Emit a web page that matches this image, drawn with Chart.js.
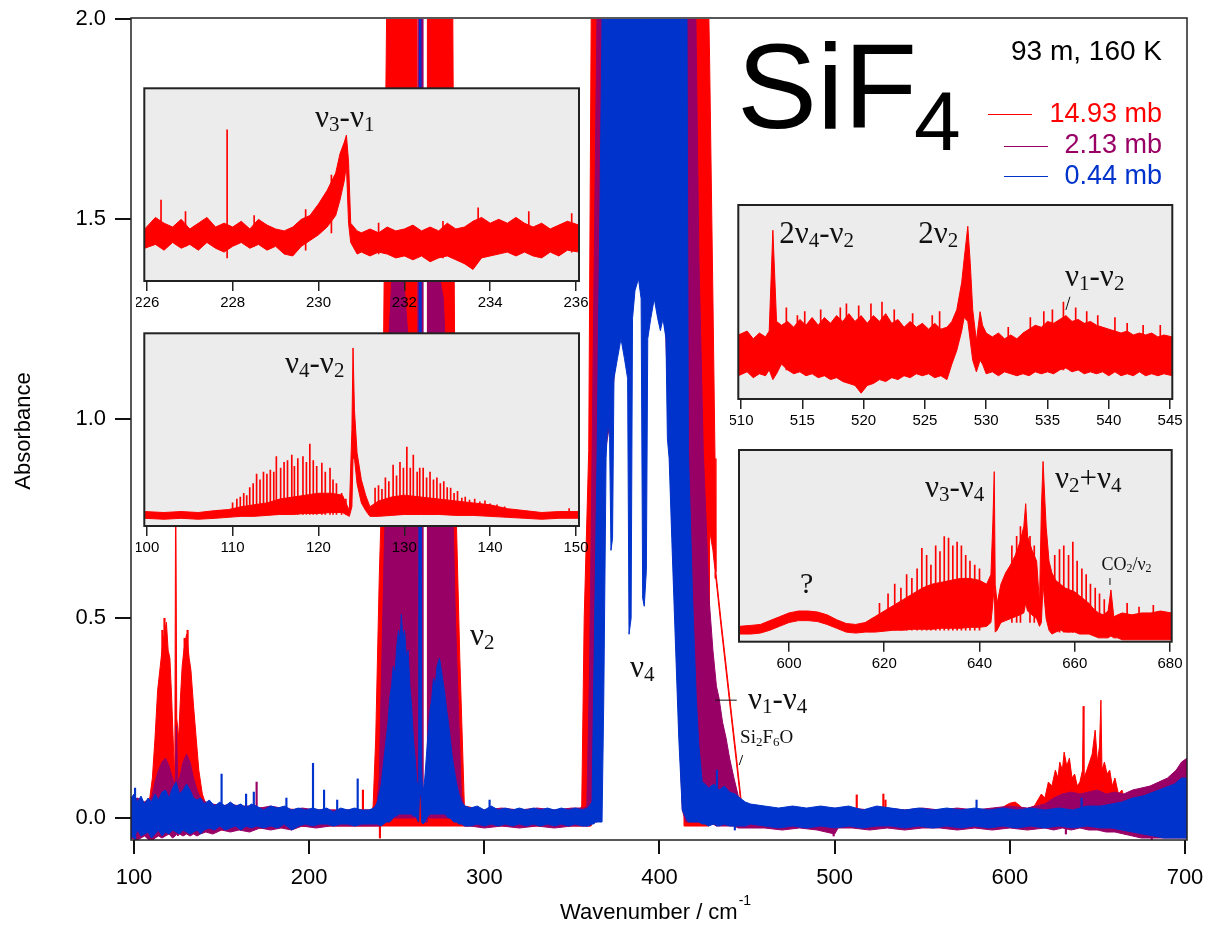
<!DOCTYPE html>
<html>
<head>
<meta charset="utf-8">
<script src="https://cdn.jsdelivr.net/npm/chart.js@4.4.1/dist/chart.umd.min.js"></script>
<style>
  body { margin: 0; background: #fff; }
  #wrap { position: relative; width: 1210px; height: 929px; }
  canvas { position: absolute; }
</style>
</head>
<body>
<div id="wrap">
  <canvas id="main" width="1210" height="929" style="left:0;top:0"></canvas>
  <canvas id="in1" width="452" height="240" style="left:136px;top:80px"></canvas>
  <canvas id="in2" width="452" height="240" style="left:136px;top:325px"></canvas>
  <canvas id="in3" width="452" height="240" style="left:730px;top:197px"></canvas>
  <canvas id="in4" width="452" height="240" style="left:730px;top:442px"></canvas>
</div>
<script>
// ---------- fonts / colours ----------
const SANS = "'Liberation Sans', Arial, sans-serif";
const SERIF = "'Liberation Serif', 'Times New Roman', serif";
Chart.defaults.font.family = SANS;
Chart.defaults.color = '#000';
Chart.defaults.animation = false;

const RED = '#ff0000', PURPLE = '#990066', BLUE = '#0033cc';

// ---------- main spectrum: [wavenumber, upper envelope, lower envelope] ----------
const blueRows = [
[98.3,0.05,-0.045],[100,0.06,-0.05],[102,0.04,-0.03],[104,0.055,-0.045],[106,0.035,-0.04],[108,0.05,-0.035],[110,0.04,-0.05],[112,0.06,-0.04],[114,0.045,-0.03],[116,0.065,-0.045],[118,0.07,-0.035],[120,0.05,-0.04],[122,0.075,-0.03],[124,0.09,-0.035],[126,0.06,-0.04],[128,0.07,-0.03],[130,0.085,-0.035],[132,0.07,-0.04],[134,0.05,-0.035],[136,0.045,-0.03],[138,0.05,-0.04],[140,0.035,-0.03],[143,0.045,-0.025],[146,0.03,-0.03],[149,0.04,-0.02],[152,0.03,-0.03],[155,0.04,-0.025],[158,0.03,-0.02],[161,0.035,-0.03],[164,0.025,-0.02],[167,0.035,-0.025],[170,0.03,-0.02],[174,0.02,-0.025],[178,0.03,-0.02],[182,0.025,-0.025],[186,0.03,-0.015],[190,0.02,-0.03],[194,0.025,-0.02],[198,0.02,-0.015],[202,0.025,-0.02],[206,0.02,-0.015],[210,0.025,-0.015],[214,0.015,-0.02],[218,0.025,-0.015],[222,0.02,-0.015],[226,0.025,-0.02],[230,0.02,-0.015],[234,0.02,-0.015],[237,0.025,-0.015],
[239,0.04,-0.015],[241,0.08,-0.02],[242.5,0.14,-0.015],[244,0.2,-0.01],[245,0.24,-0.01],[246,0.3,-0.01],[247,0.33,-0.005],[248,0.38,0],[249,0.36,0.005],[250,0.43,0.005],[251,0.47,0.01],[252,0.44,0.01],[252.6,0.51,0.01],[253.5,0.45,0.01],[254.5,0.47,0.01],[255.5,0.4,0.01],[256.5,0.42,0.01],[257.5,0.33,0.01],[258.5,0.28,0.01],[259.5,0.2,0.005],[260.5,0.15,0.005],[261.5,0.09,0],[262.5,0.08,-0.01],[263,2.0,0.06],[263.8,2.0,0.06],[264.2,0.12,-0.01],[265,0.06,-0.015],[266,0.1,-0.01],[267,0.16,0],[268,0.22,0.005],[269,0.27,0.01],[270,0.3,0.01],[271,0.35,0.01],[272,0.33,0.01],[273,0.38,0.01],[274.4,0.4,0.01],[275.5,0.37,0.01],[276.5,0.34,0.01],[277.5,0.31,0.01],[278.5,0.27,0.005],[279.5,0.24,0],[280.5,0.2,0],[281.5,0.16,-0.005],[282.5,0.13,-0.01],[284,0.09,-0.01],[285.5,0.06,-0.015],[287,0.04,-0.015],[289,0.03,-0.02],
[292,0.025,-0.02],[296,0.03,-0.015],[300,0.02,-0.02],[304,0.03,-0.015],[308,0.02,-0.02],[312,0.025,-0.015],[316,0.02,-0.02],[320,0.025,-0.015],[324,0.02,-0.02],[328,0.025,-0.015],[332,0.02,-0.02],[336,0.025,-0.015],[340,0.02,-0.02],[344,0.025,-0.015],[348,0.02,-0.02],[352,0.025,-0.015],[356,0.02,-0.02],[359,0.025,-0.02],
[361.5,0.04,-0.015],[362.5,0.35,-0.015],[363.5,0.65,-0.01],[364.4,0.92,-0.01],[365.8,1.45,-0.01],[367.2,2.0,-0.01],[368.2,2.0,0.3],[369.5,2.0,0.9],[370.5,2.0,1.0],[371.5,2.0,0.95],[372.3,2.0,0.67],[373.2,2.0,0.7],[374,2.0,1.1],[376,2.0,1.15],[378,2.0,1.2],[380,2.0,1.15],[381.8,2.0,1.1],[382.6,2.0,0.46],[383.8,2.0,0.5],[384.6,2.0,1.25],[386,2.0,1.32],[388,2.0,1.35],[389.5,2.0,1.3],[390.4,2.0,0.55],[391.3,2.0,0.53],[392.5,2.0,0.62],[393.3,2.0,1.2],[395,2.0,1.25],[397,2.0,1.3],[399,2.0,1.25],[400.5,2.0,1.22],[402,2.0,1.25],[403.7,2.0,1.2],[404.5,2.0,0.95],[405.5,2.0,0.9],[407,2.0,0.7],[409,2.0,0.45],[411,2.0,0.2],[413,2.0,0.02],[415.7,2.0,-0.005],[416.5,0.92,-0.01],[418.9,0.55,-0.01],[421,0.3,-0.01],[422.5,0.18,-0.01],[424.4,0.09,-0.015],[426,0.085,-0.015],[428,0.075,-0.02],[431,0.085,-0.015],[434,0.07,-0.02],[437,0.08,-0.015],[440,0.065,-0.02],[443,0.06,-0.02],[446,0.05,-0.02],[449,0.04,-0.02],[452,0.035,-0.015],
[460,0.03,-0.02],[468,0.025,-0.025],[476,0.03,-0.02],[484,0.025,-0.025],[492,0.03,-0.02],[500,0.025,-0.025],[508,0.03,-0.02],[516,0.02,-0.025],[524,0.03,-0.02],[532,0.025,-0.02],[540,0.02,-0.025],[548,0.025,-0.02],[556,0.02,-0.025],[564,0.025,-0.02],[572,0.02,-0.025],[580,0.025,-0.02],[588,0.02,-0.025],[596,0.025,-0.02],[604,0.02,-0.025],[612,0.025,-0.02],[620,0.02,-0.025],[628,0.025,-0.02],[636,0.02,-0.025],[644,0.03,-0.02],[652,0.03,-0.025],[658,0.035,-0.025],[664,0.04,-0.03],[670,0.05,-0.035],[676,0.055,-0.04],[682,0.065,-0.045],[688,0.075,-0.05],[694,0.085,-0.05],[698,0.1,-0.05],[701.2,0.1,-0.05]
];

const purpleRows = [
[98.3,0.045,-0.05],[102,0.05,-0.055],[106,0.04,-0.045],[110,0.05,-0.06],[112,0.09,-0.05],[114,0.12,-0.045],[116,0.14,-0.05],[118,0.15,-0.045],[120,0.13,-0.04],[122,0.1,-0.05],[123.5,0.08,-0.045],[124.2,0.23,-0.04],[125,0.09,-0.045],[126,0.1,-0.04],[128,0.14,-0.045],[130,0.16,-0.04],[132,0.14,-0.045],[134,0.1,-0.04],[136,0.07,-0.045],[138,0.05,-0.04],[141,0.04,-0.035],[145,0.035,-0.04],[150,0.03,-0.03],[155,0.035,-0.035],[160,0.03,-0.03],[166,0.03,-0.035],[172,0.025,-0.025],[178,0.03,-0.03],[184,0.025,-0.025],[190,0.02,-0.03],[196,0.025,-0.02],[204,0.02,-0.025],[212,0.02,-0.02],[220,0.02,-0.02],[228,0.02,-0.02],[235,0.02,-0.02],
[238.5,0.03,-0.02],[240,0.1,-0.02],[241.5,0.4,-0.015],[243,0.7,-0.01],[244,0.82,-0.01],[245.5,1.2,-0.005],[247.5,1.38,0],[250,1.5,0],[252.5,1.42,0],[254.5,1.32,0],[256.5,1.2,0],[258.5,1.05,0],[260.5,0.9,0],[261.4,0.8,0],[261.6,0.06,-0.01],[262,0.06,-0.01],[262.2,2.0,0.05],[264.7,2.0,0.05],[264.9,0.06,-0.01],[267.4,0.07,-0.01],[267.6,1.4,0],[269.5,1.52,0],[271.5,1.45,0],[273.5,1.38,0],[276.6,1.3,0],[278.5,1.1,0],[280.5,0.92,0],[282,0.78,0],[283.5,0.5,-0.005],[285,0.3,-0.01],[286.9,0.06,-0.015],[288.5,0.025,-0.02],
[292,0.025,-0.02],[300,0.02,-0.025],[310,0.025,-0.02],[320,0.02,-0.025],[330,0.025,-0.02],[340,0.02,-0.025],[350,0.025,-0.02],[357,0.025,-0.02],
[358.5,0.03,-0.02],[360,0.35,-0.02],[361.5,0.9,-0.015],[363,1.5,-0.01],[364.3,2.0,-0.01],[366.5,2.0,0.3],[368.5,2.0,0.9],[372,2.0,1.0],[376,2.0,1.2],[380,2.0,1.2],[384,2.0,1.25],[386,2.0,1.35],[388,2.0,1.4],[390,2.0,1.3],[393,2.0,1.25],[396,2.0,1.35],[400,2.0,1.3],[403.5,2.0,1.22],[405.5,2.0,0.95],[407,2.0,0.75],[409,2.0,0.5],[411,2.0,0.25],[413,2.0,0.02],[415,2.0,-0.01],[420.8,2.0,-0.01],[422.5,1.4,-0.01],[425,0.92,-0.01],[427,0.7,-0.01],[428.3,0.55,-0.015],[430.5,0.42,-0.015],[432.5,0.33,-0.02],[434,0.3,-0.02],[436,0.24,-0.02],[438,0.2,-0.02],[440,0.15,-0.02],[442.5,0.1,-0.02],[445,0.055,-0.025],[447,0.035,-0.025],[450,0.03,-0.025],
[460,0.025,-0.025],[470,0.02,-0.03],[480,0.025,-0.025],[490,0.02,-0.03],[500,0.025,-0.04],[502,0.02,-0.025],[510,0.025,-0.025],[520,0.02,-0.03],[530,0.025,-0.025],[540,0.02,-0.03],[550,0.025,-0.025],[560,0.02,-0.025],[570,0.025,-0.03],[580,0.02,-0.025],[590,0.025,-0.03],[600,0.03,-0.025],[610,0.025,-0.03],[620,0.035,-0.025],[625,0.05,-0.03],[630,0.06,-0.025],[635,0.065,-0.03],[640,0.06,-0.025],[645,0.065,-0.03],[650,0.07,-0.03],[655,0.06,-0.035],[660,0.065,-0.035],[665,0.06,-0.04],[670,0.07,-0.045],[675,0.075,-0.05],[680,0.08,-0.05],[685,0.09,-0.05],[690,0.1,-0.05],[695,0.12,-0.05],[698,0.14,-0.05],[701.2,0.15,-0.05]
];

const redRows = [
[98.3,0.04,-0.04],[106,0.04,-0.04],[109,0.05,-0.03],[110.5,0.1,-0.02],[112,0.2,-0.02],[113.5,0.32,-0.02],[115,0.38,-0.02],[116.5,0.44,-0.02],[118.5,0.49,-0.02],[119.5,0.42,-0.02],[120.5,0.4,-0.02],[121.5,0.3,-0.02],[122.5,0.18,-0.02],[123.3,0.1,-0.02],[123.8,0.9,-0.02],[124.4,0.25,-0.02],[125.5,0.2,-0.02],[126.5,0.3,-0.02],[127.5,0.38,-0.02],[128.5,0.42,-0.02],[130,0.46,-0.02],[131.5,0.4,-0.02],[132.5,0.37,-0.02],[134,0.28,-0.02],[135.5,0.2,-0.02],[137,0.12,-0.02],[139,0.06,-0.02],[141,0.035,-0.02],[150,0.03,-0.03],[200,0.02,-0.02],[236,0.02,-0.02],
[236.5,0.03,-0.02],[238,0.2,-0.02],[240,0.6,-0.02],[241,0.75,-0.02],[242.5,1.2,-0.02],[243.5,1.7,-0.02],[244.2,2.0,-0.02],[261.3,2.0,-0.02],[261.5,0.06,-0.02],[267.3,0.06,-0.02],[267.5,2.0,-0.02],[282,2.0,-0.02],[283,1.2,-0.02],[284,0.75,-0.02],[286,0.4,-0.02],[288.6,0.03,-0.02],[300,0.02,-0.02],[354.5,0.02,-0.02],
[355.6,0.03,-0.02],[357,0.5,-0.02],[359.6,0.92,-0.02],[361,2.0,-0.02],[365,2.0,0.2],[367,2.0,1.9],[412,2.0,1.9],[414,2.0,-0.02],[428.2,2.0,-0.02],[428.6,1.9,0.72],[430.5,1.3,0.67],[431.7,0.9,0.62],[432.2,0.615,0.6],[435,0.5,0.485],[440,0.305,0.29],[444,0.15,0.135],[446.5,0.05,0.035],[447.2,0.03,-0.02],[460,0.02,-0.02],[595,0.02,-0.02],[597,0.03,-0.02],[600,0.037,-0.02],[603,0.04,-0.02],[606,0.03,-0.02],[608,0.02,-0.02],[614,0.03,-0.02],[618,0.06,-0.02],[620,0.05,-0.02],[622,0.09,-0.02],[624,0.08,-0.02],[626,0.12,-0.02],[627.5,0.1,-0.02],[628.5,0.14,-0.02],[630,0.12,-0.02],[631,0.165,-0.02],[632.5,0.13,-0.02],[634,0.15,-0.02],[635.5,0.1,-0.02],[637,0.11,-0.02],[638.5,0.08,-0.02],[640,0.09,-0.02],[641.5,0.12,-0.02],[641.9,0.28,-0.02],[642.3,0.1,-0.02],[644,0.12,-0.02],[645.5,0.14,-0.02],[647,0.16,-0.02],[648.7,0.22,-0.02],[650,0.14,-0.02],[651.2,0.18,-0.02],[652,0.295,-0.02],[652.6,0.12,-0.02],[654,0.14,-0.02],[655.5,0.11,-0.02],[657,0.12,-0.02],[658.5,0.08,-0.02],[660,0.1,-0.02],[662,0.06,-0.02],[664,0.07,-0.02],[666,0.04,-0.02],[670,0.03,-0.02],[701.2,0.03,-0.02]
];

// single lines: [wavenumber, low, high]
const blueSpikes = [[100.6,-0.055,0.075],[150,-0.02,0.11],[164,-0.02,0.06],[168.4,-0.015,0.065],[187,-0.02,0.05],[202.2,-0.01,0.137],[208.5,-0.01,0.07],[216,-0.01,0.045],[227.7,-0.01,0.098],[303,-0.01,0.045],[432.8,-0.02,0.12],[443,-0.03,0.06],[581,-0.01,0.045],[641,-0.01,0.05]];
const purpleSpikes = [[170,-0.02,0.09],[499.4,-0.045,0.01],[632,-0.04,0.0],[681,-0.055,0.0]];
const redSpikes = [[116.2,-0.02,0.47],[117.4,-0.02,0.5],[128.9,-0.02,0.45],[130.6,-0.02,0.47],[230.7,-0.01,0.07],[240.4,-0.05,0.0],[512.6,-0.01,0.058],[527.8,-0.01,0.06],[529,-0.01,0.045]];

const xTicksMain = [100, 200, 300, 400, 500, 600, 700];
const yTicksMain = [0, 0.5, 1.0, 1.5, 2.0];

// ---------- insets (red trace only, arbitrary units) ----------
const in1Rows = [[225.95,0.27,0.17],[226.2,0.33,0.19],[226.4,0.3,0.16],[226.6,0.28,0.2],[226.8,0.32,0.17],[227,0.27,0.19],[227.2,0.3,0.16],[227.4,0.33,0.2],[227.6,0.28,0.17],[227.8,0.3,0.15],[228,0.28,0.18],[228.2,0.31,0.2],[228.4,0.27,0.17],[228.6,0.32,0.19],[228.8,0.29,0.16],[229,0.27,0.18],[229.2,0.26,0.14],[229.4,0.28,0.13],[229.6,0.32,0.18],[229.8,0.34,0.21],[230,0.4,0.24],[230.2,0.47,0.28],[230.4,0.56,0.34],[230.5,0.66,0.42],[230.6,0.72,0.52],[230.65,0.757,0.6],[230.7,0.62,0.3],[230.75,0.3,0.2],[230.9,0.26,0.14],[231,0.25,0.15],[231.2,0.27,0.13],[231.4,0.25,0.15],[231.6,0.28,0.14],[231.8,0.26,0.12],[232,0.27,0.13],[232.2,0.29,0.11],[232.4,0.26,0.13],[232.6,0.28,0.1],[232.8,0.26,0.12],[233,0.3,0.13],[233.2,0.27,0.11],[233.4,0.28,0.09],[233.6,0.31,0.06],[233.8,0.33,0.12],[234,0.3,0.13],[234.2,0.32,0.14],[234.4,0.3,0.15],[234.6,0.33,0.13],[234.8,0.3,0.15],[235,0.28,0.13],[235.2,0.3,0.12],[235.4,0.27,0.15],[235.6,0.29,0.13],[235.8,0.31,0.16],[236.07,0.29,0.15]];
const in1Spikes = [[226.33,0.2,0.42],[226.9,0.18,0.36],[227.87,0.12,0.784],[228.5,0.18,0.34],[229.7,0.16,0.37],[230.3,0.25,0.55],[231.4,0.14,0.3],[232.9,0.12,0.31],[233.72,0.15,0.38],[234.9,0.15,0.36],[235.9,0.15,0.35]];

const in2Rows = [[99.72,0.075,0.04],[102,0.07,0.035],[104,0.075,0.04],[106,0.07,0.035],[108,0.08,0.04],[109.5,0.085,0.045],[111,0.1,0.05],[112.5,0.11,0.05],[114,0.12,0.055],[115.5,0.14,0.06],[117,0.15,0.06],[118.5,0.16,0.065],[120,0.17,0.065],[121.5,0.17,0.07],[122.8,0.16,0.07],[123.6,0.08,0.05],[123.9,0.5,0.1],[124.03,0.924,0.35],[124.2,0.6,0.35],[124.5,0.38,0.22],[125,0.24,0.12],[125.5,0.16,0.08],[126,0.1,0.05],[127,0.13,0.05],[128.5,0.15,0.055],[130,0.16,0.06],[132,0.15,0.06],[134,0.14,0.06],[136,0.13,0.055],[138,0.12,0.055],[140,0.11,0.05],[142,0.09,0.045],[144,0.08,0.04],[146,0.07,0.035],[148,0.075,0.04],[150.35,0.075,0.04]];
const in2Spikes = [[110.0,0.06,0.12],[110.5,0.06,0.14],[110.9,0.06,0.15],[111.3,0.06,0.17],[111.65,0.06,0.158],[112.0,0.06,0.2],[112.4,0.06,0.22],[112.8,0.06,0.27],[113.2,0.06,0.24],[113.6,0.06,0.28],[114.0,0.06,0.27],[114.4,0.06,0.29],[114.8,0.06,0.28],[115.1,0.06,0.36],[115.6,0.06,0.3],[116.0,0.06,0.33],[116.4,0.06,0.34],[116.9,0.06,0.368],[117.2,0.06,0.31],[117.6,0.06,0.35],[118.2,0.06,0.36],[118.6,0.06,0.33],[119.0,0.06,0.425],[119.4,0.06,0.34],[119.8,0.06,0.31],[120.4,0.06,0.327],[120.8,0.06,0.28],[121.35,0.06,0.3],[121.7,0.06,0.24],[122.1,0.06,0.22],[122.7,0.06,0.17],[123.2,0.06,0.14],
[126.6,0.06,0.197],[127.0,0.06,0.21],[127.4,0.06,0.19],[127.8,0.06,0.25],[128.2,0.06,0.23],[128.7,0.06,0.316],[129.1,0.06,0.26],[129.5,0.06,0.33],[129.9,0.06,0.3],[130.3,0.06,0.41],[130.7,0.06,0.3],[131.05,0.06,0.368],[131.5,0.06,0.28],[131.8,0.06,0.3],[132.2,0.06,0.3],[132.6,0.06,0.25],[133.0,0.06,0.28],[133.4,0.06,0.24],[133.8,0.06,0.25],[134.2,0.06,0.22],[134.6,0.06,0.23],[135.0,0.06,0.2],[135.4,0.06,0.197],[135.8,0.06,0.17],[136.2,0.06,0.18],[136.7,0.06,0.145],[137.1,0.06,0.15],[137.6,0.06,0.135],[138.2,0.06,0.14],[138.8,0.06,0.125],[139.4,0.06,0.13],[140.0,0.06,0.115],[140.8,0.06,0.11],[141.7,0.06,0.1],[149.2,0.05,0.09]];

const in3Rows = [[509.78,0.33,0.12],[510.5,0.35,0.14],[511,0.31,0.11],[511.5,0.34,0.13],[512,0.32,0.12],[512.3,0.35,0.15],[512.6,0.87,0.1],[512.9,0.4,0.13],[513.3,0.38,0.18],[513.8,0.4,0.15],[514.3,0.37,0.13],[514.8,0.41,0.14],[515.3,0.38,0.12],[515.8,0.42,0.13],[516.3,0.38,0.11],[516.8,0.42,0.12],[517.3,0.39,0.1],[517.8,0.43,0.11],[518.3,0.4,0.09],[518.8,0.44,0.08],[519.3,0.4,0.07],[519.8,0.43,0.03],[520.3,0.39,0.07],[520.8,0.43,0.08],[521.3,0.4,0.1],[521.8,0.44,0.09],[522.3,0.39,0.11],[522.8,0.41,0.1],[523.3,0.37,0.12],[523.8,0.4,0.11],[524.3,0.37,0.13],[524.8,0.39,0.12],[525.3,0.36,0.13],[525.8,0.39,0.11],[526.3,0.36,0.12],[526.8,0.37,0.1],[527.2,0.4,0.18],[527.6,0.46,0.25],[528.0,0.6,0.35],[528.2,0.72,0.42],[528.5,0.89,0.4],[528.7,0.7,0.3],[528.9,0.46,0.2],[529.2,0.3,0.14],[529.5,0.45,0.2],[529.7,0.38,0.18],[530.0,0.34,0.13],[530.5,0.32,0.14],[531,0.34,0.12],[531.5,0.31,0.14],[532,0.33,0.13],[532.5,0.31,0.12],[533,0.34,0.13],[533.5,0.36,0.12],[534,0.38,0.14],[534.5,0.37,0.13],[535,0.4,0.14],[535.5,0.39,0.13],[536,0.41,0.15],[536.5,0.43,0.16],[537,0.4,0.14],[537.5,0.41,0.15],[538,0.39,0.13],[538.5,0.4,0.14],[539,0.38,0.13],[539.5,0.37,0.14],[540,0.36,0.12],[540.5,0.35,0.14],[541,0.34,0.12],[541.5,0.35,0.13],[542,0.33,0.12],[542.5,0.34,0.14],[543,0.33,0.12],[543.5,0.34,0.13],[544,0.32,0.12],[544.5,0.33,0.13],[545.18,0.32,0.12]];
const in3Spikes = [[513.7,0.15,0.47],[514.6,0.15,0.43],[515.2,0.15,0.45],[516.5,0.15,0.46],[518.1,0.15,0.47],[518.6,0.15,0.49],[519.6,0.15,0.48],[520.6,0.15,0.49],[521.5,0.15,0.5],[522.5,0.15,0.46],[524.0,0.15,0.44],[525.6,0.15,0.43],[526.2,0.15,0.45],[531.8,0.15,0.37],[533.6,0.15,0.42],[534.7,0.15,0.45],[535.4,0.15,0.46],[536.3,0.15,0.5],[537.3,0.15,0.47],[538.2,0.15,0.45],[539.1,0.15,0.43],[540.5,0.15,0.42],[541.5,0.15,0.39],[542.8,0.15,0.38],[544.2,0.15,0.38]];

const in4Rows = [[589.5,0.08,0.04],[592,0.085,0.04],[594,0.09,0.045],[596,0.11,0.06],[598,0.13,0.08],[600,0.15,0.1],[602,0.16,0.11],[604,0.16,0.11],[606,0.155,0.105],[608,0.14,0.09],[610,0.115,0.07],[612,0.095,0.05],[614,0.09,0.045],[616,0.1,0.05],[618,0.13,0.05],[620,0.16,0.055],[622,0.19,0.06],[624,0.22,0.06],[626,0.25,0.065],[628,0.28,0.065],[630,0.3,0.065],[632,0.31,0.07],[634,0.32,0.07],[636,0.33,0.07],[638,0.33,0.075],[640,0.32,0.075],[641.5,0.3,0.08],[642.4,0.35,0.1],[642.8,0.62,0.2],[643.1,0.887,0.3],[643.3,0.3,0.05],[643.7,0.2,0.06],[644.5,0.3,0.1],[645.5,0.36,0.11],[646.5,0.4,0.12],[647.5,0.45,0.13],[648.5,0.52,0.14],[649.3,0.6,0.15],[649.7,0.72,0.2],[650.1,0.55,0.16],[651,0.48,0.14],[652,0.42,0.12],[652.6,0.2,0.08],[653.0,0.7,0.1],[653.35,0.94,0.3],[653.7,0.75,0.2],[654,0.6,0.12],[654.6,0.42,0.06],[655.2,0.36,0.04],[656,0.32,0.05],[657,0.3,0.06],[658,0.28,0.05],[659,0.27,0.05],[660,0.26,0.05],[661,0.24,0.04],[662,0.22,0.04],[663,0.2,0.04],[664,0.17,0.03],[665,0.15,0.02],[666,0.14,0.02],[667,0.16,0.02],[667.6,0.27,0.03],[668.2,0.13,0.02],[669,0.14,0.02],[670,0.15,0.01],[672,0.14,0.01],[674,0.15,0.01],[676,0.15,0.01],[678,0.16,0.01],[680.36,0.15,0.01]];
const in4Spikes = [[619,0.06,0.2],[620.8,0.06,0.25],[622.2,0.06,0.3],[623.5,0.06,0.28],[624.7,0.06,0.35],[625.8,0.06,0.33],[626.9,0.06,0.38],[627.9,0.06,0.487],[628.9,0.06,0.45],[629.8,0.06,0.4],[630.8,0.06,0.5],[631.7,0.06,0.47],[632.6,0.06,0.548],[633.5,0.06,0.54],[634.4,0.06,0.5],[635.3,0.06,0.52],[636.2,0.06,0.5],[637.1,0.06,0.45],[638.0,0.06,0.42],[639,0.06,0.4],[640,0.06,0.38],[646.8,0.1,0.5],[647.8,0.1,0.55],[648.6,0.1,0.6],[650.6,0.1,0.55],[651.5,0.1,0.5],[655.8,0.05,0.45],[656.8,0.05,0.48],[657.7,0.05,0.5],[658.7,0.05,0.45],[659.6,0.05,0.52],[660.5,0.05,0.42],[661.5,0.05,0.38],[662.4,0.05,0.35],[663.3,0.05,0.3],[664.3,0.05,0.28],[665.2,0.03,0.25],[666.2,0.03,0.22],[671,0.02,0.2],[673.5,0.02,0.18],[676.5,0.02,0.19]];

const in1Ticks = [226, 228, 230, 232, 234, 236];
const in2Ticks = [100, 110, 120, 130, 140, 150];
const in3Ticks = [510, 515, 520, 525, 530, 535, 540, 545];
const in4Ticks = [600, 620, 640, 660, 680];

// ---------- helpers ----------
// one closed outline per trace: upper envelope left->right, lower envelope back right->left
function bandSet(rows, color) {
  const upper = rows.map(r => ({ x: r[0], y: r[1] }));
  const lower = rows.slice().reverse().map(r => ({ x: r[0], y: r[2] }));
  return { type: 'line', data: upper.concat(lower), borderColor: color, backgroundColor: color,
    borderWidth: 1, pointRadius: 0, fill: 'shape', tension: 0 };
}
function spikeSet(rows, color, w) {
  return { type: 'bar', data: rows.map(r => ({ x: r[0], y: [r[1], r[2]] })), backgroundColor: color,
    barThickness: w, grouped: false };
}
// "_" makes the following character a subscript
function drawNote(ctx, px, py, txt, size) {
  const sub = Math.round(size * 0.68), drop = size * 0.13;
  let cx = px;
  for (let i = 0; i < txt.length; i++) {
    let ch = txt[i], isSub = false;
    if (ch === '_') { isSub = true; ch = txt[++i]; }
    ctx.font = (isSub ? sub : size) + 'px ' + SERIF;
    ctx.fillText(ch, cx, py + (isSub ? drop : 0));
    cx += ctx.measureText(ch).width;
  }
}
function drawNotes(chart, notes, lines) {
  const { ctx, scales: { x, y } } = chart;
  ctx.save();
  ctx.fillStyle = '#111'; ctx.strokeStyle = '#111'; ctx.lineWidth = 1;
  ctx.textAlign = 'left'; ctx.textBaseline = 'alphabetic';
  notes.forEach(n => drawNote(ctx, x.getPixelForValue(n.x), y.getPixelForValue(n.y), n.t, n.size));
  lines.forEach(l => {
    ctx.beginPath();
    ctx.moveTo(x.getPixelForValue(l[0]), y.getPixelForValue(l[1]));
    ctx.lineTo(x.getPixelForValue(l[2]), y.getPixelForValue(l[3]));
    ctx.stroke();
  });
  ctx.restore();
}
function noLabelPadding(s) { s.paddingLeft = 0; s.paddingRight = 0; s.paddingTop = 0; s.paddingBottom = 0; }

// ---------- main chart ----------
const mainNotes = [
  { x: 291.8, y: 0.4325, t: 'ν_2', size: 31 },
  { x: 383.2, y: 0.353, t: 'ν_4', size: 31 },
  { x: 450.5, y: 0.274, t: 'ν_1-ν_4', size: 31 },
  { x: 446, y: 0.187, t: 'Si_2F_6O', size: 19 }
];
const mainLines = [[431.7, 0.295, 444.1, 0.295], [447.5, 0.1575, 445.5, 0.1325]];

const mainDeco = {
  id: 'mainDeco',
  afterDraw(chart) {
    const { ctx, chartArea: a } = chart;
    ctx.save();
    ctx.strokeStyle = '#222'; ctx.lineWidth = 1.5;
    ctx.strokeRect(a.left, a.top - 1, a.right - a.left, a.bottom - a.top + 1);

    ctx.fillStyle = '#000';
    ctx.textBaseline = 'alphabetic';
    ctx.textAlign = 'left';
    ctx.font = '120px ' + SANS;
    ctx.fillText('SiF', 737, 128);
    ctx.font = '84px ' + SANS;
    ctx.fillText('4', 914, 150);

    ctx.textAlign = 'right';
    ctx.font = '28px ' + SANS;
    ctx.fillText('93 m, 160 K', 1162, 60);
    const leg = [['14.93 mb', RED, 122, 114, 988], ['2.13 mb', PURPLE, 153, 146, 1004], ['0.44 mb', BLUE, 184, 176, 1004]];
    ctx.font = '27px ' + SANS;
    leg.forEach(([t, c, by, ly, lx]) => {
      ctx.fillStyle = c;
      ctx.fillText(t, 1162, by);
      ctx.strokeStyle = c; ctx.lineWidth = 1;
      ctx.beginPath(); ctx.moveTo(lx, ly + 0.5); ctx.lineTo(lx + 44, ly + 0.5); ctx.stroke();
    });

    // axis titles
    ctx.fillStyle = '#000';
    ctx.textAlign = 'left';
    ctx.font = '22px ' + SANS;
    const t1 = 'Wavenumber / cm';
    ctx.fillText(t1, 560, 919);
    const w1 = ctx.measureText(t1).width;
    ctx.font = '14px ' + SANS;
    ctx.fillText('-1', 560 + w1 + 1, 905);
    ctx.save();
    ctx.translate(30, 431);
    ctx.rotate(-Math.PI / 2);
    ctx.textAlign = 'center';
    ctx.font = '22px ' + SANS;
    ctx.fillText('Absorbance', 0, 0);
    ctx.restore();
    ctx.restore();

    drawNotes(chart, mainNotes, mainLines);
  }
};

new Chart(document.getElementById('main'), {
  type: 'line',
  data: {
    datasets: [
      bandSet(blueRows, BLUE), spikeSet(blueSpikes, BLUE, 1.5),
      bandSet(purpleRows, PURPLE), spikeSet(purpleSpikes, PURPLE, 1.5),
      bandSet(redRows, RED), spikeSet(redSpikes, RED, 1.5)
    ]
  },
  options: {
    responsive: false, animation: false, events: [],
    layout: { padding: { left: 0, right: 23, top: 19, bottom: 0 } },
    plugins: { legend: { display: false }, tooltip: { enabled: false } },
    scales: {
      x: {
        type: 'linear', min: 98.29, max: 701.14, offset: false,
        afterBuildTicks: s => { s.ticks = xTicksMain.map(v => ({ value: v })); },
        afterFit: s => { s.height = 89; noLabelPadding(s); },
        grid: { offset: false, drawOnChartArea: false, drawTicks: true, tickLength: 14, color: '#111', lineWidth: 2 },
        border: { display: false },
        ticks: { font: { size: 22 }, padding: 11, maxRotation: 0, autoSkip: false, color: '#000', callback: v => String(v) }
      },
      y: {
        type: 'linear', min: -0.055, max: 2.0, beginAtZero: false,
        afterBuildTicks: s => { s.ticks = yTicksMain.map(v => ({ value: v })); },
        afterFit: s => { s.width = 131; noLabelPadding(s); },
        grid: { drawOnChartArea: false, drawTicks: true, tickLength: 16, color: '#111', lineWidth: 2 },
        border: { display: false },
        ticks: { font: { size: 22 }, padding: 9, color: '#000', callback: v => v.toFixed(1) }
      }
    }
  },
  plugins: [mainDeco]
});

// ---------- insets ----------
function insetDeco(notes, lines) {
  return {
    id: 'insetDeco',
    beforeDraw(chart) {
      const { ctx, chartArea: a } = chart;
      ctx.save();
      ctx.fillStyle = '#ececec';
      ctx.fillRect(a.left, a.top, a.right - a.left, a.bottom - a.top);
      ctx.restore();
    },
    afterDraw(chart) {
      const { ctx, chartArea: a } = chart;
      ctx.save();
      ctx.strokeStyle = '#222'; ctx.lineWidth = 2;
      ctx.strokeRect(a.left, a.top, a.right - a.left, a.bottom - a.top);
      ctx.restore();
      drawNotes(chart, notes, lines);
    }
  };
}

function makeInset(id, rows, spikes, xr, ticks, pad, axisH, notes, lines) {
  return new Chart(document.getElementById(id), {
    type: 'line',
    data: { datasets: [bandSet(rows, RED), spikeSet(spikes, RED, 1)] },
    options: {
      responsive: false, animation: false, events: [],
      layout: { padding: pad },
      plugins: { legend: { display: false }, tooltip: { enabled: false } },
      scales: {
        x: {
          type: 'linear', min: xr[0], max: xr[1], offset: false,
          afterBuildTicks: s => { s.ticks = ticks.map(v => ({ value: v })); },
          afterFit: s => { s.height = axisH; noLabelPadding(s); },
          grid: { offset: false, drawOnChartArea: false, drawTicks: true, tickLength: 10, color: '#222', lineWidth: 1.5 },
          border: { display: false },
          ticks: { font: { size: 15 }, padding: 3, maxRotation: 0, autoSkip: false, color: '#000', callback: v => String(v) }
        },
        y: { display: false, min: 0, max: 1, beginAtZero: false }
      }
    },
    plugins: [insetDeco(notes, lines)]
  });
}

makeInset('in1', in1Rows, in1Spikes, [225.94, 236.07], in1Ticks,
  { left: 8.3, right: 9, top: 8.3, bottom: 0 }, 39,
  [{ x: 229.92, y: 0.80, t: 'ν_3-ν_1', size: 31 }], []);
makeInset('in2', in2Rows, in2Spikes, [99.72, 150.35], in2Ticks,
  { left: 8.3, right: 9, top: 8.3, bottom: 0 }, 39,
  [{ x: 116.11, y: 0.792, t: 'ν_4-ν_2', size: 31 }], []);
makeInset('in3', in3Rows, in3Spikes, [509.78, 545.18], in3Ticks,
  { left: 8.3, right: 9.7, top: 8, bottom: 0 }, 38,
  [{ x: 513.12, y: 0.806, t: '2ν_4-ν_2', size: 31 }, { x: 524.46, y: 0.806, t: '2ν_2', size: 31 },
   { x: 536.43, y: 0.582, t: 'ν_1-ν_2', size: 31 }],
  [[536.83, 0.527, 536.5, 0.459]]);
makeInset('in4', in4Rows, in4Spikes, [589.5, 680.36], in4Ticks,
  { left: 9, right: 10.3, top: 8, bottom: 0 }, 40.3,
  [{ x: 628.55, y: 0.756, t: 'ν_3-ν_4', size: 31 }, { x: 655.85, y: 0.80, t: 'ν_2+ν_4', size: 31 },
   { x: 602.3, y: 0.252, t: '?', size: 30 }, { x: 665.6, y: 0.374, t: 'CO_2/ν_2', size: 18 }],
  [[667.4, 0.332, 667.4, 0.296]]);
</script>
</body>
</html>
